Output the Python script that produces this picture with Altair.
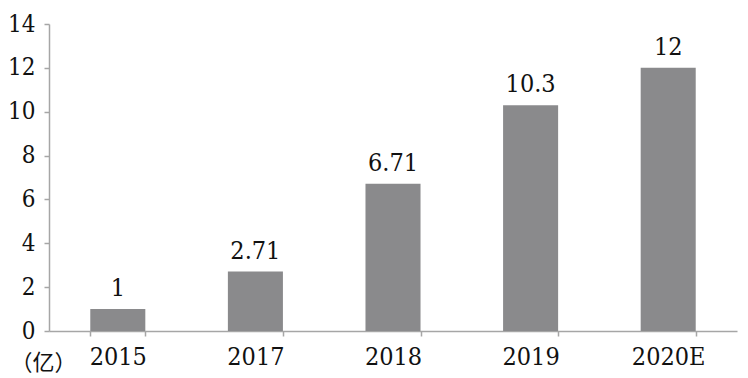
import altair as alt
import pandas as pd

years = ["2015", "2017", "2018", "2019", "2020E"]
values = [1, 2.71, 6.71, 10.3, 12]
labels = ["1", "2.71", "6.71", "10.3", "12"]

df = pd.DataFrame({"year": years, "value": values, "label": labels})

FONT = "DejaVu Serif Condensed"
AXIS_COLOR = "#a6a6a6"
BAR_COLOR = "#8a8a8c"

x = alt.X(
    "year:N",
    sort=years,
    scale=alt.Scale(paddingInner=0.6, paddingOuter=0.3),
    axis=alt.Axis(
        title=None,
        labelAngle=0,
        labelFont=FONT,
        labelFontSize=25,
        labelColor="#111111",
        labelBaseline="alphabetic",
        labelPadding=28,
        tickBand="extent",
        tickSize=5,
        tickColor=AXIS_COLOR,
        domainColor=AXIS_COLOR,
        domainWidth=1.5,
        tickWidth=1.5,
        grid=False,
    ),
)

y = alt.Y(
    "value:Q",
    scale=alt.Scale(domain=[0, 14], nice=False),
    axis=alt.Axis(
        title="（亿）",
        titleAngle=0,
        titleFont="Noto Sans CJK SC",
        titleFontSize=22,
        titleFontWeight="normal",
        titleColor="#111111",
        titleX=-6,
        titleY=345,
        titleAlign="center",
        titleBaseline="alphabetic",
        values=[0, 2, 4, 6, 8, 10, 12, 14],
        labelFont=FONT,
        labelFontSize=24,
        labelColor="#111111",
        labelPadding=9,
        tickSize=5,
        tickColor=AXIS_COLOR,
        domainColor=AXIS_COLOR,
        domainWidth=1.5,
        tickWidth=1.5,
        grid=False,
    ),
)

bars = alt.Chart(df).mark_bar(color=BAR_COLOR).encode(x=x, y=y)

text = alt.Chart(df).mark_text(
    font=FONT, fontSize=25, color="#111111", baseline="alphabetic", dy=-13
).encode(x=alt.X("year:N", sort=years), y="value:Q", text="label:N")

chart = (
    alt.layer(bars, text)
    .properties(
        width=688,
        height=307,
        padding={"left": 49, "top": 24, "right": 11, "bottom": 47},
        autosize=alt.AutoSizeParams(type="none"),
        background="white",
    )
    .configure_view(stroke=None)
)

chart.save("out.html", embed_options={"renderer": "svg", "actions": False})
